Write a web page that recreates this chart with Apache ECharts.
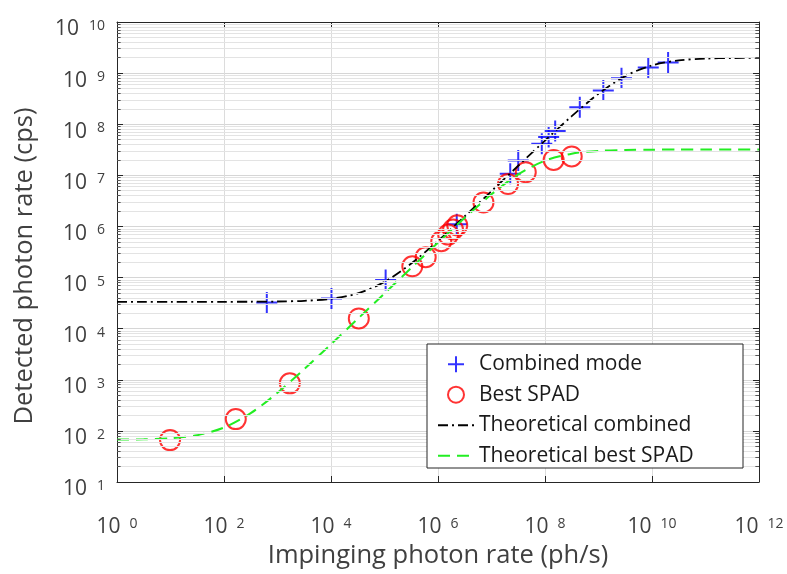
<!DOCTYPE html>
<html><head><meta charset="utf-8">
<script src="https://cdn.jsdelivr.net/npm/echarts@6/dist/echarts.min.js"></script>
<style>html,body{margin:0;padding:0;background:#fff}#c{width:787px;height:574px}</style>
</head><body><div id="c"></div><script>
// Measured points
const combinedX = [631, 10200, 105000, 2.24e6, 2.24e7, 3.16e7, 8.71e7, 1.17e8, 1.55e8, 4.47e8, 1.23e9, 2.69e9, 8.51e9, 2.0e10];
const combinedY = [32400, 38900, 89100, 1.10e6, 1.07e7, 1.95e7, 4.17e7, 5.62e7, 7.41e7, 2.14e8, 4.57e8, 7.94e8, 1.29e9, 1.62e9];
const spadX = [9.8, 166, 1700, 33100, 331000, 589000, 1.15e6, 1.55e6, 1.91e6, 2.29e6, 7.08e6, 2.04e7, 4.37e7, 1.45e8, 3.16e8];
const spadY = [66, 170, 851, 15850, 166000, 251000, 513000, 692000, 871000, 1.05e6, 2.95e6, 6.76e6, 1.15e7, 2.0e7, 2.34e7];
// Theoretical curves, read at half-decade steps
const theoryX = [1, 3.162, 10, 31.62, 100, 316.2, 1000, 3162, 1e4, 3.162e4, 1e5, 3.162e5, 1e6, 3.162e6, 1e7, 3.162e7, 1e8, 3.162e8, 1e9, 3.162e9, 1e10, 3.162e10, 1e11, 3.162e11, 1e12];
const theoryCombinedY = [33500, 33502, 33505, 33515, 33549, 33655, 33990, 35050, 38400, 49000, 82500, 188400, 523400, 1.582e6, 4.922e6, 1.541e7, 4.786e7, 1.438e8, 3.936e8, 8.73e8, 1.42e9, 1.771e9, 1.922e9, 1.974e9, 1.992e9];
const theorySpadY = [67.5, 68.5, 71.9, 82.5, 116, 222, 557, 1616, 4967, 15560, 48990, 154300, 482700, 1.478e6, 4.25e6, 1.044e7, 1.936e7, 2.652e7, 3.004e7, 3.135e7, 3.18e7, 3.19e7, 3.197e7, 3.199e7, 3.2e7];
const xTitle = 'Impinging photon rate (ph/s)';
const yTitle = 'Detected photon rate (cps)';
const seriesNames = ['Combined mode', 'Best SPAD', 'Theoretical combined', 'Theoretical best SPAD'];

const minorVals = [];
for (let e = 1; e < 10; e++) for (let m = 2; m <= 9; m++) minorVals.push(m * Math.pow(10, e));

const zip = (a, b) => a.map((v, i) => [v, b[i]]);
const FONT = 'Open Sans';
const LC = '#404040';
const richX = {
  b: { fontSize: 21, fontFamily: FONT, color: LC, lineHeight: 21, verticalAlign: 'bottom' },
  s: { fontSize: 14, fontFamily: FONT, color: LC, lineHeight: 14, verticalAlign: 'top', padding: [0, 0, 14, 9] }
};
const richY = {
  b: { fontSize: 21, fontFamily: FONT, color: LC, lineHeight: 21, verticalAlign: 'bottom' },
  s: { fontSize: 14, fontFamily: FONT, color: LC, lineHeight: 14, verticalAlign: 'top', padding: [0, 0, 14, 10] }
};
const fmt = v => '{b|10}{s|' + Math.round(Math.log10(v)) + '}';
const AX = '#262626';

const chart = echarts.init(document.getElementById('c'));
chart.setOption({
  animation: false,
  backgroundColor: '#fff',
  grid: { left: 117, right: 28, top: 22, bottom: 92, containLabel: false, outerBoundsMode: 'none' },
  xAxis: [{
    type: 'log', logBase: 10, min: 1, max: 1e12, interval: 2,
    name: xTitle, nameLocation: 'middle', nameGap: 61, nameMoveOverlap: false,
    nameTextStyle: { fontSize: 25.5, fontFamily: FONT, color: LC },
    axisLine: { show: true, lineStyle: { color: AX, width: 1 } },
    axisTick: { show: true, inside: true, length: 6, lineStyle: { color: AX } },
    axisLabel: { formatter: fmt, rich: richX, margin: 35 },
    splitLine: { show: true, lineStyle: { color: '#dcdcdc', width: 1 } },
    minorTick: { show: false }, minorSplitLine: { show: false }
  }, {
    type: 'log', logBase: 10, min: 1, max: 1e12, interval: 2, position: 'top',
    axisLine: { show: true, lineStyle: { color: AX, width: 1 } },
    axisTick: { show: true, inside: true, length: 6, lineStyle: { color: AX } },
    axisLabel: { show: false }, splitLine: { show: false }
  }],
  yAxis: [{
    type: 'log', logBase: 10, min: 10, max: 1e10, interval: 1,
    name: yTitle, nameLocation: 'middle', nameGap: 79, nameMoveOverlap: false,
    nameTextStyle: { fontSize: 25.5, fontFamily: FONT, color: LC, padding: [0, 28, 0, 0] },
    axisLine: { show: true, lineStyle: { color: AX, width: 1 } },
    axisTick: { show: true, inside: true, length: 6, lineStyle: { color: AX } },
    axisLabel: { formatter: fmt, rich: richY, margin: 12, padding: [15, 0, 0, 0] },
    splitLine: { show: true, lineStyle: { color: '#d6d6d6', width: 1 } }
  }, {
    type: 'log', logBase: 10, min: 10, max: 1e10, interval: 1, position: 'right',
    axisLine: { show: true, lineStyle: { color: AX, width: 1 } },
    axisTick: { show: true, inside: true, length: 6, lineStyle: { color: AX } },
    axisLabel: { show: false }, splitLine: { show: false }
  }],
  legend: {
    data: [
      { name: seriesNames[0] },
      { name: seriesNames[1] },
      { name: seriesNames[2], itemStyle: { opacity: 0 } },
      { name: seriesNames[3], itemStyle: { opacity: 0 } }
    ],
    orient: 'vertical', left: 432, top: 348.7,
    itemWidth: 36, itemHeight: 16, itemGap: 9.5, selectedMode: false,
    textStyle: { fontSize: 21, fontFamily: FONT, color: '#1a1a1a', lineHeight: 20 },
    z: 10
  },
  graphic: [{
    type: 'rect', z: 9, shape: { x: 427, y: 344, width: 316, height: 124 },
    style: { fill: '#fff', stroke: AX, lineWidth: 1 }
  }],
  series: [
    {
      name: 'minorgrid', type: 'line', data: [[1, 10]], symbol: 'none', lineStyle: { opacity: 0 }, z: 1, silent: true,
      markLine: { silent: true, symbol: ['none', 'none'], label: { show: false }, animation: false,
        lineStyle: { color: '#e3e3e3', width: 1, type: 'solid' },
        data: minorVals.map(v => ({ yAxis: v })) }
    },
    {
      name: 'minorticks', type: 'line', data: [[1, 10]], symbol: 'none', lineStyle: { opacity: 0 }, z: 1, silent: true,
      markLine: { silent: true, symbol: ['none', 'none'], label: { show: false }, animation: false,
        lineStyle: { color: '#555', width: 1, type: 'solid' },
        data: minorVals.map(v => [{ coord: [1, v] }, { coord: [1.17, v] }])
          .concat(minorVals.map(v => [{ coord: [1e12 / 1.17, v] }, { coord: [1e12, v] }])) }
    },
    {
      name: seriesNames[0], type: 'scatter', data: zip(combinedX, combinedY), z: 3,
      symbol: 'path://M10,0 L10,20 M0,10 L20,10', symbolSize: 21,
      itemStyle: { color: 'rgba(0,0,0,0)', borderColor: '#0000ff', borderWidth: 2 }
    },
    {
      name: seriesNames[1], type: 'scatter', data: zip(spadX, spadY), z: 3,
      symbol: 'circle', symbolSize: 20,
      itemStyle: { color: 'rgba(0,0,0,0)', borderColor: '#ff0000', borderWidth: 2 }
    },
    {
      name: seriesNames[2], type: 'line', data: zip(theoryX, theoryCombinedY), z: 4,
      symbol: 'none', smooth: 0.3, lineStyle: { color: '#000', width: 1.8, type: [10, 4, 2, 4] },
      itemStyle: { color: '#000' }
    },
    {
      name: seriesNames[3], type: 'line', data: zip(theoryX, theorySpadY), z: 4,
      symbol: 'none', smooth: 0.3, lineStyle: { color: '#22ee22', width: 2, type: [12, 7] },
      itemStyle: { color: '#22ee22' }
    }
  ]
});
</script></body></html>
